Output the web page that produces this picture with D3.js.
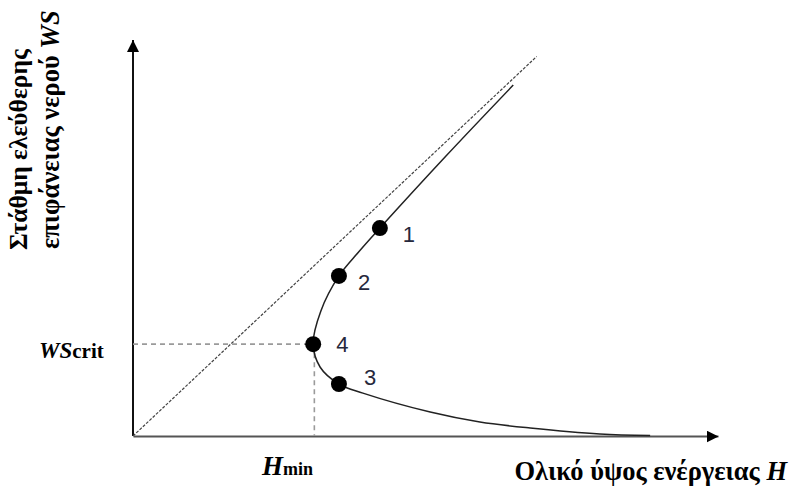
<!DOCTYPE html>
<html>
<head>
<meta charset="utf-8">
<script src="https://cdn.jsdelivr.net/npm/d3@7"></script>
<style>
  html, body { margin: 0; padding: 0; background: #fff; }
  svg { display: block; }
  .serif { font-family: "Liberation Serif", "DejaVu Serif", serif; font-weight: bold; }
  .num { font-family: "Liberation Sans", Arial, sans-serif; fill: #26283c; }
</style>
</head>
<body>
<svg id="chart" width="790" height="487"></svg>
<script>
// Specific energy curve: total head H (x) against water-surface level WS (y)
const curveH  = [6.50, 5.35, 4.22, 3.86, 3.52, 3.21, 3.08, 3.20, 3.52, 3.93, 5.08, 5.93, 6.79, 7.98, 8.84];
const curveWS = [6.38, 5.09, 3.78, 3.35, 2.91, 2.27, 1.67, 1.25, 0.945, 0.78, 0.436, 0.255, 0.145, 0.036, 0.01];

// Marked states on the curve
const pointLabels = ["1", "2", "4", "3"];
const pointH  = [4.22, 3.52, 3.08, 3.52];
const pointWS = [3.78, 2.91, 1.67, 0.945];

// Critical state (minimum energy)
const Hmin = 3.10;
const WScrit = 1.67;

// Line WS = H
const diagMax = 6.9;

const xDomain = [0, 10];
const yDomain = [0, 7.2];

const svg = d3.select("#chart");
const x = d3.scaleLinear().domain(xDomain).range([133, 718]);
const y = d3.scaleLinear().domain(yDomain).range([436, 40]);

// Arrow heads
const defs = svg.append("defs");
defs.append("marker")
  .attr("id", "arrow")
  .attr("viewBox", "0 0 12 12")
  .attr("refX", 12).attr("refY", 6)
  .attr("markerWidth", 12).attr("markerHeight", 12)
  .attr("markerUnits", "userSpaceOnUse")
  .attr("orient", "auto")
  .append("path")
  .attr("d", "M0,0 L12,6 L0,12 Z")
  .attr("fill", "#000");

// Axes (no ticks, arrow at the end)
const xAxis = svg.append("g")
  .attr("transform", `translate(0,${y(0)})`)
  .call(d3.axisBottom(x).tickValues([]).tickSizeOuter(0));
xAxis.select(".domain")
  .attr("stroke", "#555").attr("stroke-width", 2)
  .attr("marker-end", "url(#arrow)");

const yAxis = svg.append("g")
  .attr("transform", `translate(${x(0)},0)`)
  .call(d3.axisLeft(y).tickValues([]).tickSizeOuter(0));
yAxis.select(".domain")
  .attr("d", `M0,${y(0)}V${y(yDomain[1])}`)
  .attr("stroke", "#111").attr("stroke-width", 2)
  .attr("marker-end", "url(#arrow)");

// WS = H reference line
svg.append("line")
  .attr("x1", x(0)).attr("y1", y(0))
  .attr("x2", x(diagMax)).attr("y2", y(diagMax))
  .attr("stroke", "#444").attr("stroke-width", 1.2)
  .attr("stroke-dasharray", "3,1.5");

// Critical-state guide lines
svg.append("line")
  .attr("x1", x(0)).attr("y1", y(WScrit))
  .attr("x2", x(Hmin)).attr("y2", y(WScrit))
  .attr("stroke", "#9a9a9a").attr("stroke-width", 1.6)
  .attr("stroke-dasharray", "5,4");
svg.append("line")
  .attr("x1", x(Hmin)).attr("y1", y(WScrit))
  .attr("x2", x(Hmin)).attr("y2", y(0))
  .attr("stroke", "#9a9a9a").attr("stroke-width", 1.6)
  .attr("stroke-dasharray", "5,4");

// Energy curve
const curveData = curveH.map((h, i) => [h, curveWS[i]]);
svg.append("path")
  .datum(curveData)
  .attr("fill", "none")
  .attr("stroke", "#222").attr("stroke-width", 1.5)
  .attr("d", d3.line().x(d => x(d[0])).y(d => y(d[1])).curve(d3.curveCatmullRom.alpha(0.5)));

// State points and their numbers
const pts = pointLabels.map((l, i) => ({ label: l, h: pointH[i], ws: pointWS[i] }));
svg.selectAll("circle.pt").data(pts).enter().append("circle")
  .attr("class", "pt")
  .attr("cx", d => x(d.h)).attr("cy", d => y(d.ws))
  .attr("r", 8).attr("fill", "#000");

const labelOffset = { "1": [23, 14], "2": [19, 14], "4": [23, 8], "3": [25, 1] };
svg.selectAll("text.num").data(pts).enter().append("text")
  .attr("class", "num")
  .attr("x", d => x(d.h) + labelOffset[d.label][0])
  .attr("y", d => y(d.ws) + labelOffset[d.label][1])
  .attr("font-size", 22)
  .text(d => d.label);

// Y-axis title (two rotated lines)
svg.append("text").attr("class", "serif")
  .attr("transform", "translate(27,250) rotate(-90)")
  .attr("font-size", 25.5)
  .text("Στάθμη ελεύθερης");
const yt2 = svg.append("text").attr("class", "serif")
  .attr("transform", "translate(59,249) rotate(-90)")
  .attr("font-size", 26.5);
yt2.append("tspan").text("επιφάνειας νερού ");
yt2.append("tspan").attr("font-style", "italic").text("WS");

// WS_crit label
const wsc = svg.append("text").attr("class", "serif")
  .attr("x", 39).attr("y", 358);
wsc.append("tspan").attr("font-size", 23).attr("font-style", "italic").text("WS");
wsc.append("tspan").attr("font-size", 21).text("crit");

// H_min label
const hm = svg.append("text").attr("class", "serif")
  .attr("x", 262).attr("y", 475);
hm.append("tspan").attr("font-size", 27).attr("font-style", "italic").text("H");
hm.append("tspan").attr("font-size", 18).text("min");

// X-axis title
const xt = svg.append("text").attr("class", "serif")
  .attr("x", 787).attr("y", 480).attr("text-anchor", "end")
  .attr("font-size", 26.5);
xt.append("tspan").text("Ολικό ύψος ενέργειας ");
xt.append("tspan").attr("font-style", "italic").text("H");
</script>
</body>
</html>
